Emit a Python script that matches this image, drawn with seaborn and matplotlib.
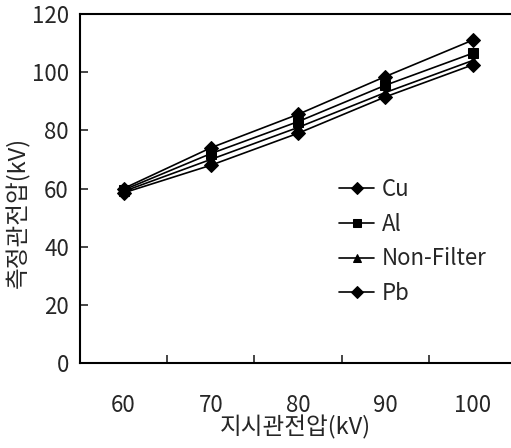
import pandas as pd
import matplotlib
matplotlib.use("Agg")
import matplotlib.pyplot as plt
import seaborn as sns

# indicated tube voltage (kV) vs measured tube voltage (kV)
kvp = [60, 70, 80, 90, 100]
cu = [60.0, 74.0, 85.5, 98.5, 111.0]
al = [59.5, 72.0, 83.0, 95.5, 106.5]
non_filter = [59.0, 70.0, 81.0, 93.0, 104.0]
pb = [58.5, 68.0, 79.0, 91.5, 102.5]
series = ["Cu", "Al", "Non-Filter", "Pb"]

df = pd.DataFrame({
    "x": kvp * 4,
    "y": cu + al + non_filter + pb,
    "filter": [s for s in series for _ in kvp],
})

sns.set_style("ticks")
plt.rcParams["font.family"] = ["Noto Sans CJK KR", "DejaVu Sans"]

fig = plt.figure(figsize=(5.11, 4.48), dpi=100)
ax = fig.add_axes([80 / 511, 1 - 363 / 448, 1 - 80 / 511, (363 - 14) / 448])

sns.lineplot(
    data=df, x="x", y="y", hue="filter", style="filter",
    hue_order=series, style_order=series,
    palette=["black"] * 4,
    markers={"Cu": "D", "Al": "s", "Non-Filter": "^", "Pb": "D"},
    dashes=False, markersize=7, linewidth=1.2,
    markeredgecolor="black", ax=ax,
)

ax.set_xlim(55, 104.4)
ax.set_ylim(0, 120)
ax.set_xticks(kvp)
ax.set_xticks([65, 75, 85, 95], minor=True)
ax.set_yticks(range(0, 121, 20))
ax.tick_params(axis="x", which="major", length=0, pad=22, labelsize=16)
ax.tick_params(axis="x", which="minor", direction="in", length=6, width=1.2)
ax.tick_params(axis="y", direction="in", length=6, width=1.2, pad=8, labelsize=16)

for side in ["left", "bottom", "top"]:
    ax.spines[side].set_linewidth(1.5)
    ax.spines[side].set_color("black")
ax.spines["right"].set_visible(False)

ax.set_xlabel("지시관전압(kV)", fontsize=17, labelpad=-1)
ax.set_ylabel("측정관전압(kV)", fontsize=17)
ax.yaxis.set_label_coords(-0.115, 0.43)

leg = ax.legend(
    loc="upper left", bbox_to_anchor=(0.58, 0.555), frameon=False,
    fontsize=16, handlelength=1.6, handletextpad=0.35, labelspacing=0.52,
    borderaxespad=0, markerscale=0.9,
)

fig.savefig("out.png", dpi=100)
